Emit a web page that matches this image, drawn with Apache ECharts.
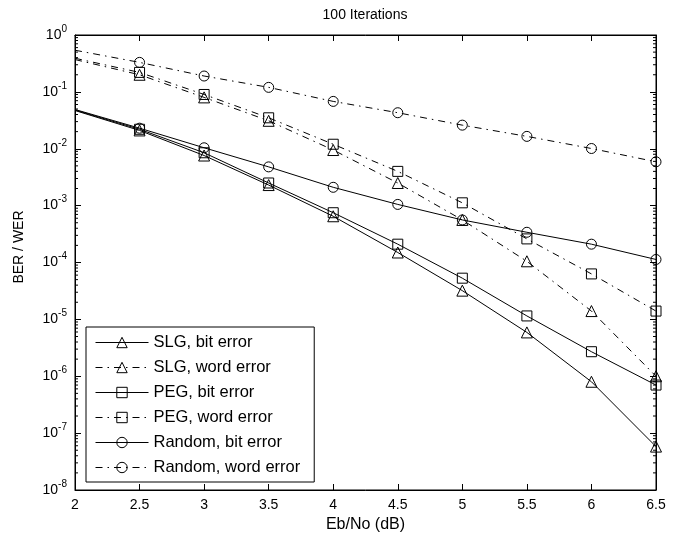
<!DOCTYPE html>
<html>
<head>
<meta charset="utf-8">
<script src="https://cdn.jsdelivr.net/npm/echarts@6/dist/echarts.min.js"></script>
<style>
html,body{margin:0;padding:0;background:#fff;}
#chart{width:691px;height:540px;}
</style>
</head>
<body>
<div id="chart"></div>
<script>
// ---- data ----
var ebno = [2, 2.5, 3, 3.5, 4, 4.5, 5, 5.5, 6, 6.5];
var slgBit  = [0.047, 0.021, 0.0076, 0.0023, 0.00065, 0.00015, 3.2e-5, 5.9e-6, 8.0e-7, 5.8e-8];
var slgWord = [0.37, 0.20, 0.080, 0.031, 0.0095, 0.0025, 0.00056, 0.000105, 1.4e-5, 1.0e-6];
var pegBit  = [0.048, 0.022, 0.0085, 0.0025, 0.00075, 0.00021, 5.3e-5, 1.15e-5, 2.7e-6, 7.0e-7];
var pegWord = [0.39, 0.22, 0.090, 0.035, 0.012, 0.0040, 0.00112, 0.00026, 6.3e-5, 1.4e-5];
var randBit = [0.049, 0.023, 0.0104, 0.0048, 0.0021, 0.00105, 0.00056, 0.00034, 0.00021, 0.000113];
var randWord= [0.54, 0.33, 0.19, 0.12, 0.068, 0.043, 0.026, 0.0165, 0.0101, 0.0059];
var seriesNames = ['SLG, bit error', 'SLG, word error', 'PEG, bit error', 'PEG, word error', 'Random, bit error', 'Random, word error'];
var xTickLabels = ['2', '2.5', '3', '3.5', '4', '4.5', '5', '5.5', '6', '6.5'];
// minor tick positions of the log axis (decade exponents and mantissas)
var minorDecades = [-8, -7, -6, -5, -4, -3, -2, -1];
var minorMantissas = [2, 3, 4, 5, 6, 7, 8, 9];

var FONT = 'Liberation Sans, Arial, sans-serif';
var dashDot = [7, 5, 1.5, 5];

function mkSeries(name, vals, symbol, size, dashed) {
  return {
    name: name,
    type: 'line',
    data: vals.map(function (v, i) {
      var d = { value: [ebno[i], v] };
      if (i === 0) d.symbol = 'none';
      return d;
    }),
    symbol: symbol,
    symbolSize: size,
    showSymbol: true,
    showAllSymbol: true,
    clip: false,
    animation: false,
    lineStyle: { color: '#000', width: 1, type: dashed ? dashDot : 'solid' },
    itemStyle: { color: 'rgba(0,0,0,0)', borderColor: '#000', borderWidth: 1 },
    emphasis: { disabled: true }
  };
}

var minorData = [];
minorDecades.forEach(function (e) {
  minorMantissas.forEach(function (m) {
    minorData.push([ebno[0], m * Math.pow(10, e)]);
  });
});

var chart = echarts.init(document.getElementById('chart'), null, { renderer: 'canvas' });
var option = {
  backgroundColor: '#fff',
  animation: false,
  textStyle: { fontFamily: FONT, color: '#000' },
  grid: { left: 75, right: 35, top: 35, bottom: 50, show: true, borderColor: '#000', borderWidth: 1, backgroundColor: '#fff' },
  legend: {
    data: seriesNames,
    orient: 'vertical',
    left: 86,
    top: 327,
    padding: [7, 14, 6, 9],
    itemGap: 8,
    itemWidth: 53,
    itemHeight: 13,
    backgroundColor: '#fff',
    borderColor: '#000',
    borderWidth: 1,
    borderRadius: 0,
    selectedMode: false,
    lineStyle: { width: 1 },
    itemStyle: { borderWidth: 1 },
    textStyle: { fontFamily: FONT, fontSize: 16.5, color: '#000' }
  },
  xAxis: [{
    type: 'value',
    min: 2, max: 6.5, interval: 0.5,
    name: 'Eb/No (dB)',
    nameLocation: 'middle',
    nameGap: 27,
    nameTextStyle: { fontFamily: FONT, fontSize: 16, color: '#000' },
    axisLine: { lineStyle: { color: '#000', width: 1 } },
    axisTick: { inside: true, length: 6, lineStyle: { color: '#000' } },
    axisLabel: { fontFamily: FONT, fontSize: 14, color: '#000', margin: 8,
      formatter: function (v) { var i = ebno.indexOf(v); return i >= 0 ? xTickLabels[i] : String(v); } },
    splitLine: { show: false }
  }, {
    type: 'value',
    position: 'top',
    min: 2, max: 6.5, interval: 0.5,
    axisLine: { lineStyle: { color: '#000', width: 1 } },
    axisTick: { inside: true, length: 6, lineStyle: { color: '#000' } },
    axisLabel: { show: false },
    splitLine: { show: false }
  }],
  yAxis: [{
    type: 'log',
    logBase: 10,
    min: 1e-8, max: 1,
    interval: 1,
    axisLine: { lineStyle: { color: '#000', width: 1 } },
    axisTick: { inside: true, length: 6, lineStyle: { color: '#000' } },
    axisLabel: {
      margin: 8,
      formatter: function (v) {
        var e = Math.round(Math.log10(v));
        return '{b|10}{s|' + e + '}';
      },
      rich: {
        b: { fontFamily: FONT, fontSize: 14, color: '#000' },
        s: { fontFamily: FONT, fontSize: 10, color: '#000', padding: [0, 0, 12, 0] }
      }
    },
    splitLine: { show: false }
  }, {
    type: 'log',
    logBase: 10,
    position: 'right',
    min: 1e-8, max: 1,
    interval: 1,
    axisLine: { lineStyle: { color: '#000', width: 1 } },
    axisTick: { inside: true, length: 6, lineStyle: { color: '#000' } },
    axisLabel: { show: false },
    splitLine: { show: false }
  }],
  graphic: [{
    type: 'text',
    x: 365, y: 15,
    style: { text: '100 Iterations', font: '14px ' + FONT, fill: '#000', align: 'center', verticalAlign: 'middle' },
    silent: true
  }, {
    type: 'text',
    x: 19, y: 247,
    rotation: Math.PI / 2,
    style: { text: 'BER / WER', font: '14px ' + FONT, fill: '#000', align: 'center', verticalAlign: 'middle' },
    silent: true
  }],
  series: [
    mkSeries(seriesNames[0], slgBit, 'triangle', 11, false),
    mkSeries(seriesNames[1], slgWord, 'triangle', 11, true),
    mkSeries(seriesNames[2], pegBit, 'rect', 10, false),
    mkSeries(seriesNames[3], pegWord, 'rect', 10, true),
    mkSeries(seriesNames[4], randBit, 'circle', 10, false),
    mkSeries(seriesNames[5], randWord, 'circle', 10, true),
    {
      type: 'custom',
      name: 'minorTicks',
      silent: true,
      clip: false,
      animation: false,
      data: minorData,
      renderItem: function (params, api) {
        var v = api.value(1);
        var pL = api.coord([ebno[0], v]);
        var pR = api.coord([ebno[ebno.length - 1], v]);
        return {
          type: 'group',
          children: [
            { type: 'line', shape: { x1: pL[0], y1: pL[1], x2: pL[0] + 3, y2: pL[1] }, style: { stroke: '#000', lineWidth: 1 } },
            { type: 'line', shape: { x1: pR[0] - 3, y1: pR[1], x2: pR[0], y2: pR[1] }, style: { stroke: '#000', lineWidth: 1 } }
          ]
        };
      }
    }
  ]
};
chart.setOption(option);
</script>
</body>
</html>
